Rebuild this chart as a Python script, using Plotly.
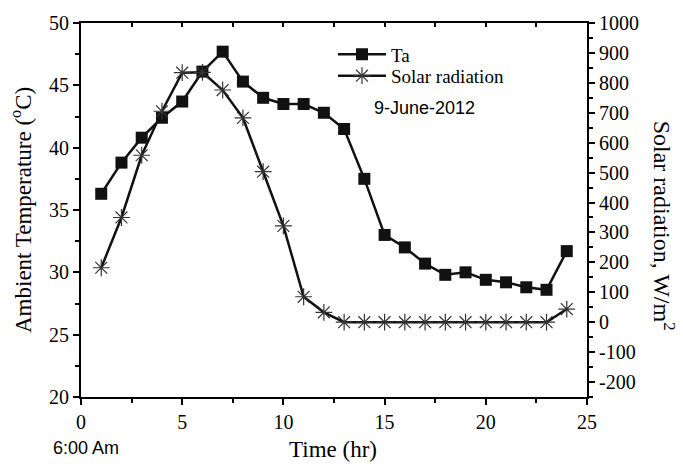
import plotly.graph_objects as go

hours = list(range(1, 25))
ta = [36.3, 38.8, 40.8, 42.4, 43.7, 46.1, 47.7, 45.3, 44.0, 43.5, 43.5, 42.8,
      41.5, 37.5, 33.0, 32.0, 30.7, 29.8, 30.0, 29.4, 29.2, 28.8, 28.6, 31.7]
solar = [182, 350, 558, 705, 834, 835, 776, 683, 503, 322, 85, 33,
         0, 0, 0, 0, 0, 0, 0, 0, 0, 0, 0, 44]

x_ticks = [0, 5, 10, 15, 20, 25]
left_ticks = [20, 25, 30, 35, 40, 45, 50]
right_ticks = list(range(-200, 1001, 100))
right_labels = [str(v) for v in right_ticks]  # hyphen-minus as in the reference

serif = "Liberation Serif, Times New Roman, serif"
sans = "Liberation Sans, Arial, sans-serif"

# plot area in pixels (for placing free text)
L, R, T, B = 81, 587, 15, 397
W, H = R - L, B - T


def px(xp):
    return (xp - L) / W


def py(yp):
    return (B - yp) / H


fig = go.Figure()
fig.add_trace(go.Scatter(
    x=hours, y=ta, name="Ta", mode="lines+markers",
    line=dict(color="#111111", width=2.5),
    marker=dict(symbol="square", size=12, color="#111111",
                line=dict(color="#111111", width=0)),
    yaxis="y", legend="legend"))
fig.add_trace(go.Scatter(
    x=hours, y=solar, name="Solar radiation", mode="lines+markers",
    line=dict(color="#111111", width=2.5),
    marker=dict(symbol="asterisk-open", size=14, color="#333333",
                line=dict(color="#333333", width=1.2)),
    yaxis="y2", legend="legend2"))

axis_common = dict(showline=True, linecolor="black", linewidth=2,
                   ticks="outside", tickcolor="black", tickwidth=2, ticklen=6,
                   showgrid=False, zeroline=False,
                   tickfont=dict(family=serif, size=20, color="black"))
minor_common = dict(ticks="outside", ticklen=4, tickwidth=2, tickcolor="black")
legend_common = dict(xanchor="left", yanchor="middle", bgcolor="rgba(0,0,0,0)",
                     font=dict(family=serif, size=19), itemwidth=48)

fig.update_layout(
    width=683, height=466,
    margin=dict(l=L, r=683 - R, t=T, b=466 - B),
    paper_bgcolor="white", plot_bgcolor="white",
    font=dict(family=serif, color="black"),
    xaxis=dict(range=[0, 25], tickvals=x_ticks,
               minor=dict(dtick=2.5, **minor_common), **axis_common),
    xaxis3=dict(range=[0, 25], overlaying="x", side="top", anchor="y",
                showline=True, linecolor="black", linewidth=2,
                ticks="inside", tickvals=[2.5, 5, 7.5, 10, 12.5, 15, 17.5, 20, 22.5],
                ticklen=4, tickwidth=2, tickcolor="black",
                showticklabels=False, showgrid=False, zeroline=False),
    yaxis=dict(range=[20, 50], tickvals=left_ticks,
               minor=dict(dtick=2.5, **minor_common), **axis_common),
    yaxis2=dict(range=[-250, 1000], tickvals=right_ticks, ticktext=right_labels,
                overlaying="y", side="right", anchor="x",
                minor=dict(dtick=50, **minor_common), **axis_common),
    legend=dict(x=px(333), y=py(47), **legend_common),
    legend2=dict(x=px(333), y=py(69), **legend_common),
    showlegend=True,
)

# invisible trace to activate the mirrored top axis
fig.add_trace(go.Scatter(x=[0], y=[20], xaxis="x3", yaxis="y", mode="markers",
                         marker=dict(opacity=0), showlegend=False, hoverinfo="skip"))

fig.add_annotation(text="9-June-2012", xref="paper", yref="paper",
                   x=px(372), y=py(102), xanchor="left", yanchor="middle",
                   showarrow=False, font=dict(family=sans, size=18, color="black"))
fig.add_annotation(text="6:00 Am", xref="paper", yref="paper",
                   x=px(86), y=py(449), xanchor="center", yanchor="middle",
                   showarrow=False, font=dict(family=sans, size=18, color="black"))
fig.add_annotation(text="Time (hr)", xref="paper", yref="paper",
                   x=px(333), y=py(451), xanchor="center", yanchor="middle",
                   showarrow=False, font=dict(family=serif, size=23, color="black"))
fig.add_annotation(text="Ambient Temperature (<sup>o</sup>C)", xref="paper", yref="paper",
                   x=px(21), y=py(206), xanchor="center", yanchor="middle",
                   textangle=-90, showarrow=False, font=dict(family=serif, size=23, color="black"))
fig.add_annotation(text="Solar radiation, W/m<sup>2</sup>", xref="paper", yref="paper",
                   x=px(664), y=py(222), xanchor="center", yanchor="middle",
                   textangle=90, showarrow=False, font=dict(family=serif, size=24, color="black"))

fig.write_html("out.html")
